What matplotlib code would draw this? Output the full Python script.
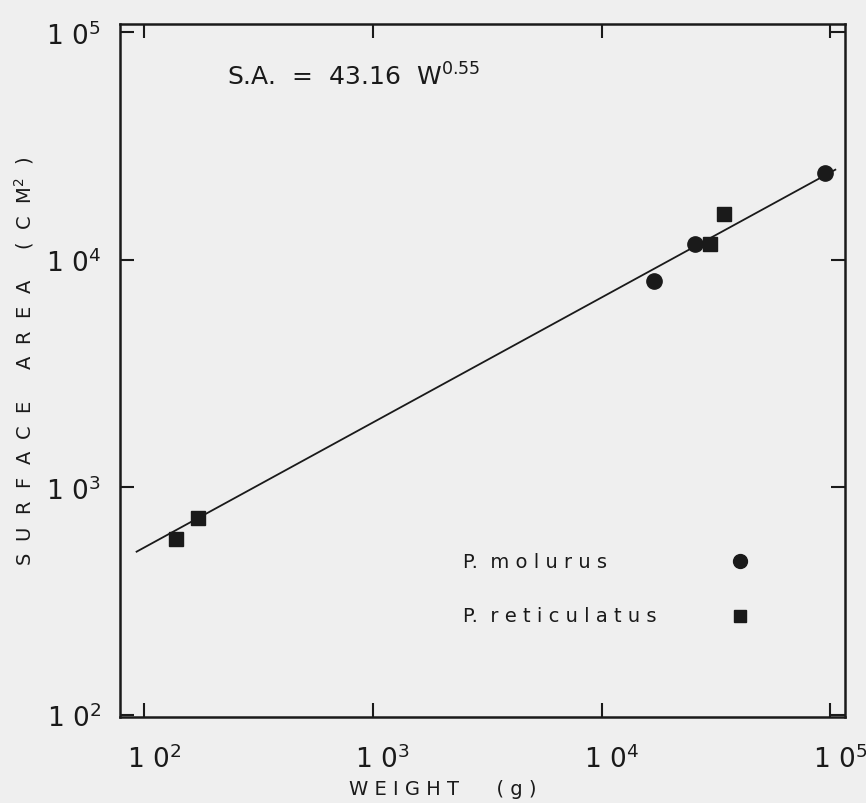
import matplotlib.pyplot as plt
import matplotlib.transforms as mtrans

# P. molurus (circles)
molurus_w = [16900, 25700, 94200]
molurus_sa = [8100, 11700, 24000]
# P. reticulatus (squares)
retic_w = [138, 172, 29900, 34100]
retic_sa = [593, 733, 11700, 16000]

# fitted line S.A. = 43.16 W^0.55
coef = 43.16
expo = 0.55
line_w = [93, 105000]

xticks = [1e2, 1e3, 1e4, 1e5]
yticks = [1e2, 1e3, 1e4, 1e5]
tick_labels = [r'$\mathregular{1\ 0^{2}}$', r'$\mathregular{1\ 0^{3}}$',
               r'$\mathregular{1\ 0^{4}}$', r'$\mathregular{1\ 0^{5}}$']

bg = '#efefef'
ink = '#1a1a1a'

fig = plt.figure(figsize=(8.66, 8.04), dpi=100, facecolor=bg)
ax = fig.add_axes([0.139, 0.107, 0.837, 0.862], facecolor=bg)

ax.plot(line_w, [coef * w ** expo for w in line_w], color=ink, lw=1.3)
ax.plot(molurus_w, molurus_sa, 'o', color=ink, ms=11, mec=ink)
ax.plot(retic_w, retic_sa, 's', color=ink, ms=10, mec=ink)

ax.set_xscale('log')
ax.set_yscale('log')
ax.set_xlim(79, 1.16e5)
ax.set_ylim(98, 1.09e5)

ax.set_xticks(xticks)
ax.set_xticklabels(tick_labels)
ax.set_yticks(yticks)
ax.set_yticklabels(tick_labels)
ax.minorticks_off()
ax.tick_params(which='major', direction='in', length=10, width=1.5,
               top=True, right=True, colors=ink, labelsize=19)
ax.tick_params(axis='x', pad=20)
ax.tick_params(axis='y', pad=14)
for s in ax.spines.values():
    s.set_linewidth(1.8)
    s.set_color(ink)

# x tick labels sit a little right of their ticks in the original
shift = mtrans.ScaledTranslation(10 / 100, 0, fig.dpi_scale_trans)
for lab in ax.get_xticklabels():
    lab.set_transform(lab.get_transform() + shift)

fig.text(443 / 866, 1 - 790 / 804, 'W E I G H T      ( g )', fontsize=14,
         color=ink, ha='center', va='center')
ax.set_ylabel(r'S  U  R  F  A  C  E     A  R  E  A     (  C  M$^{2}$  )',
              fontsize=14, color=ink)
ax.yaxis.set_label_coords(-0.117, 0.514)

ax.text(0.147, 0.925, r'S.A.  =  43.16  W$^{0.55}$', transform=ax.transAxes,
        fontsize=18, color=ink, va='center')

ax.text(0.473, 0.225, 'P.  m o l u r u s', transform=ax.transAxes,
        fontsize=14, color=ink, va='center')
ax.text(0.473, 0.146, 'P.  r e t i c u l a t u s', transform=ax.transAxes,
        fontsize=14, color=ink, va='center')
ax.plot([0.855], [0.225], 'o', color=ink, ms=10, transform=ax.transAxes)
ax.plot([0.855], [0.146], 's', color=ink, ms=9, transform=ax.transAxes)

fig.savefig('out.png', dpi=100, facecolor=bg)
